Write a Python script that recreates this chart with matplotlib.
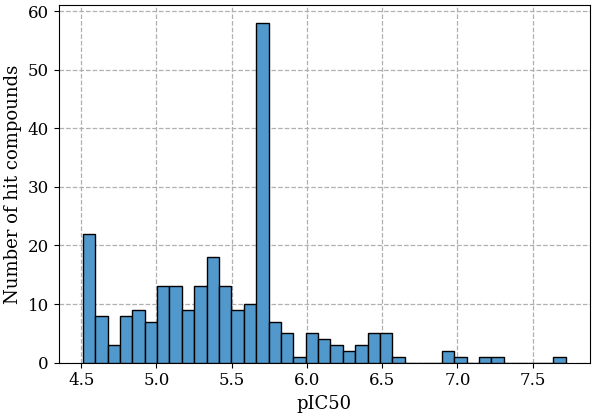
import numpy as np
import matplotlib
matplotlib.use("Agg")
import matplotlib.pyplot as plt

# histogram counts, 39 bins between min and max pIC50
counts = [22, 8, 3, 8, 9, 7, 13, 13, 9, 13, 18, 13, 9, 10, 58, 7, 5, 1, 5, 4,
          3, 2, 3, 5, 5, 1, 0, 0, 0, 2, 1, 0, 1, 1, 0, 0, 0, 0, 1]
lo, hi = 4.51, 7.72

edges = np.linspace(lo, hi, len(counts) + 1)
centers = (edges[:-1] + edges[1:]) / 2

plt.rcParams['font.family'] = ['DejaVu Serif']
fig, ax = plt.subplots(figsize=(5.94, 4.17), dpi=100)
ax.hist(centers, bins=edges, weights=counts, color='#5199cc',
        edgecolor='black', linewidth=1.0, zorder=3)
ax.grid(True, linestyle='--', color='#b0b0b0', linewidth=0.9, zorder=0)
ax.set_xlabel('pIC50', fontsize=13)
ax.set_ylabel('Number of hit compounds', fontsize=13)
ax.set_xticks([4.5, 5.0, 5.5, 6.0, 6.5, 7.0, 7.5])
ax.tick_params(labelsize=12)
ax.set_ylim(0, 61)
ax.set_xlim(4.35, 7.88)
fig.tight_layout(pad=0.3)
fig.savefig('out.png')
